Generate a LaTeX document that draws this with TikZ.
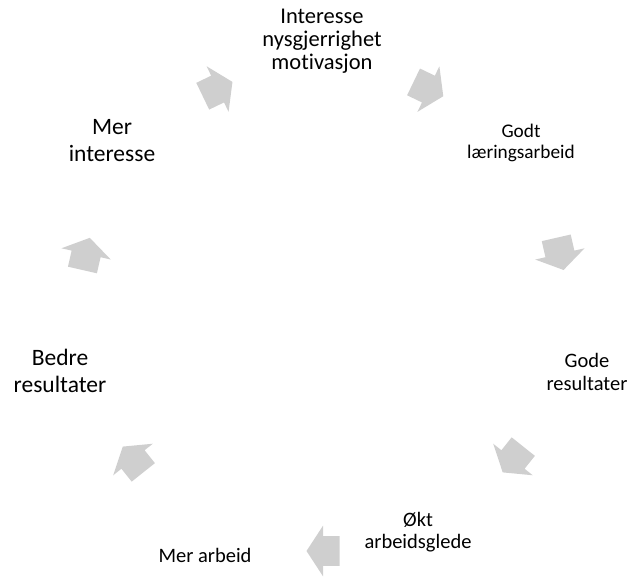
\documentclass[tikz,border=0pt]{standalone}
\usepackage{fontspec}
\setmainfont{Carlito}[Ligatures=NoCommon]
\usepackage{tikz}
\usetikzlibrary{calc}
\definecolor{arrowgray}{RGB}{207,207,207}

\begin{document}
\begin{tikzpicture}[x=1pt, y=1pt,
  smalltxt/.style={align=center, inner sep=0pt, font=\fontsize{20.5}{22.5}\selectfont},
  bigtxt/.style={align=center, inner sep=0pt, font=\fontsize{23.5}{27}\selectfont},
  blockarrow/.pic={\fill[arrowgray, scale=1.1] (-15,-13.5) -- (0,-13.5) -- (0,-23) -- (15,0) -- (0,23) -- (0,13.5) -- (-15,13.5) -- cycle;}]
\useasboundingbox (0,0) rectangle (631,581);
\coordinate (c) at (323,273);
% the steps of the cycle
\node[smalltxt, font=\fontsize{22.5}{23}\selectfont] (interesse) at (322,540) {Interesse\\nysgjerrighet\\motivasjon};
\node[smalltxt, font=\fontsize{19.3}{21}\selectfont] (godt) at (521,438) {Godt\\læringsarbeid};
\node[smalltxt] (gode) at (587,209) {Gode\\resultater};
\node[smalltxt] (okt) at (418,49) {Økt\\arbeidsglede};
\node[smalltxt] (merarb) at (205,26) {Mer arbeid};
\node[bigtxt] (bedre) at (60,210) {Bedre\\resultater};
\node[bigtxt] (merint) at (112,440) {Mer\\interesse};
% arrows between the steps
\foreach \ang [count=\i] in {64.29,12.86,-38.57,-90,-141.43,167.14,115.71} {
  \coordinate (a\i) at ($(c)+(\ang:243)$);
  \pic[rotate=\ang-90] at (a\i) {blockarrow};
}
\end{tikzpicture}
\end{document}
